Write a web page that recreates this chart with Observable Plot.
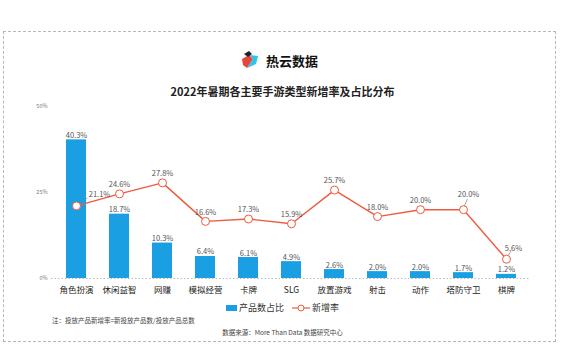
<!DOCTYPE html>
<html><head><meta charset="utf-8">
<script src="https://cdn.jsdelivr.net/npm/d3@7"></script>
<script src="https://cdn.jsdelivr.net/npm/@observablehq/plot@0.6"></script>
<style>
body{margin:0;width:565px;height:353px;overflow:hidden;background:#fff;font-family:"Noto Sans CJK SC","Noto Sans",sans-serif;}
#wrap{position:relative;width:565px;height:353px;}
#frame{position:absolute;left:3px;top:31px;width:553px;height:311px;border:1px dashed #b8b8b8;box-sizing:border-box;}
#logo{position:absolute;left:241px;top:49px;height:22px;display:flex;align-items:center;}
#logo span{font-size:13px;font-weight:bold;color:#111;margin-left:7px;}
#title{position:absolute;left:0;width:565px;top:83px;text-align:center;font-size:11px;font-weight:bold;color:#222;}
#chart{position:absolute;left:0;top:96px;}
#legend{position:absolute;left:0;width:565px;top:301px;display:flex;justify-content:center;align-items:center;font-size:9px;color:#333;}
#note{position:absolute;left:52px;top:315px;font-size:6.5px;color:#444;}
#src{position:absolute;left:0;width:565px;top:327px;text-align:center;font-size:6.5px;color:#444;}
</style></head>
<body><div id="wrap">
<div id="frame"></div>
<div id="logo"><svg width="18" height="20" viewBox="0 0 18 20">
<polygon points="1,9 8,5 12,9 6,18 2,15" fill="#e8463a"/>
<polygon points="8,5 17,6 15,14 6,18 12,9" fill="#2ec4e8"/>
<polygon points="3,4 8,1 11,4 7,7" fill="#222"/>
</svg><span>热云数据</span></div>
<div id="title">2022年暑期各主要手游类型新增率及占比分布</div>
<div id="chart"></div>
<div id="legend">
<svg width="11" height="6"><rect width="11" height="6" fill="#1a9fe3"/></svg><span style="margin-left:2px;margin-right:8px">产品数占比</span>
<svg width="18" height="8"><line x1="0" y1="4" x2="18" y2="4" stroke="#ee5a3f" stroke-width="1.2"/><circle cx="9" cy="4" r="3" fill="#fff" stroke="#ee5a3f"/></svg><span style="margin-left:2px">新增率</span>
</div>
<div id="note">注：投放产品新增率=新投放产品数/投放产品总数</div>
<div id="src">数据来源：More Than Data 数据研究中心</div>
</div>
<script>
const categories = ["角色扮演","休闲益智","网赚","模拟经营","卡牌","SLG","放置游戏","射击","动作","塔防守卫","棋牌"];
const shareValues = [40.3,18.7,10.3,6.4,6.1,4.9,2.6,2.0,2.0,1.7,1.2];
const growthValues = [21.1,24.6,27.8,16.6,17.3,15.9,25.7,18.0,20.0,20.0,5.6];
const yTicks = [0,25,50];

const rows = categories.map((c,i)=>({cat:c, share:shareValues[i], growth:growthValues[i]}));
const special = new Set(["角色扮演","塔防守卫","棋牌"]);
const fmt = v => v.toFixed(1)+"%";
const red = "#ee5a3f";
const leader = (l)=>({draw(ctx){ctx.moveTo(0,0);ctx.lineTo(0,-l);}});
const lbl = {fontSize:7.5, fill:"#555"};

const marks = [
  Plot.ruleY([0],{stroke:"#bbb",strokeDasharray:"1.5,2"}),
  Plot.barY(rows,{x:"cat",y:"share",fill:"#1a9fe3"}),
  Plot.text(rows,{x:"cat",y:"share",text:d=>fmt(d.share),lineAnchor:"bottom",dy:-2,...lbl}),
  Plot.line(rows,{x:"cat",y:"growth",stroke:red,strokeWidth:1.4}),
  Plot.dot(rows,{x:"cat",y:"growth",r:4,fill:"#fff",stroke:red,strokeWidth:1}),
  Plot.text(rows.filter(d=>!special.has(d.cat)),{x:"cat",y:"growth",text:d=>fmt(d.growth),dy:-9,...lbl}),
  Plot.text(rows.filter(d=>d.cat==="角色扮演"),{x:"cat",y:"growth",text:d=>fmt(d.growth),dx:23,dy:-11,...lbl}),
  Plot.text(rows.filter(d=>d.cat==="塔防守卫"),{x:"cat",y:"growth",text:d=>fmt(d.growth),dx:5,dy:-15,...lbl}),
  Plot.text(rows.filter(d=>d.cat==="棋牌"),{x:"cat",y:"growth",text:d=>fmt(d.growth),dx:7,dy:-11,...lbl})
];
let leaders = [];
try {
  leaders = [
    Plot.vector(rows.filter(d=>d.cat==="角色扮演"),{x:"cat",y:"growth",anchor:"start",length:9,rotate:58,dx:3,dy:-3,stroke:"#999",strokeWidth:0.8,shape:leader(9)}),
    Plot.vector(rows.filter(d=>d.cat==="塔防守卫"),{x:"cat",y:"growth",anchor:"start",length:7,rotate:23,dx:1,dy:-4,stroke:"#999",strokeWidth:0.8,shape:leader(7)}),
    Plot.vector(rows.filter(d=>d.cat==="棋牌"),{x:"cat",y:"growth",anchor:"start",length:5,rotate:30,dx:2,dy:-4,stroke:"#999",strokeWidth:0.8,shape:leader(5)})
  ];
} catch(e) { leaders = []; }

const chart = Plot.plot({
  width:565, height:210,
  marginLeft:51, marginRight:35, marginTop:10, marginBottom:28,
  style:{fontFamily:'"Noto Sans CJK SC","Noto Sans",sans-serif', background:"transparent", overflow:"visible"},
  x:{domain:categories, paddingInner:0.54, paddingOuter:0.27, label:null, tickSize:0, tickPadding:8},
  y:{domain:[0,50], ticks:yTicks, tickFormat:d=>d+"%", label:null, tickSize:0, tickPadding:4},
  marks:[
    Plot.axisX({tickSize:0, tickPadding:8, fontSize:8.5, fill:"#222"}),
    Plot.axisY({ticks:yTicks, tickFormat:d=>d+"%", tickSize:0, tickPadding:4, fontSize:5.5, fill:"#777"}),
    ...leaders,
    ...marks
  ]
});
document.getElementById("chart").appendChild(chart);
</script>
</body></html>
